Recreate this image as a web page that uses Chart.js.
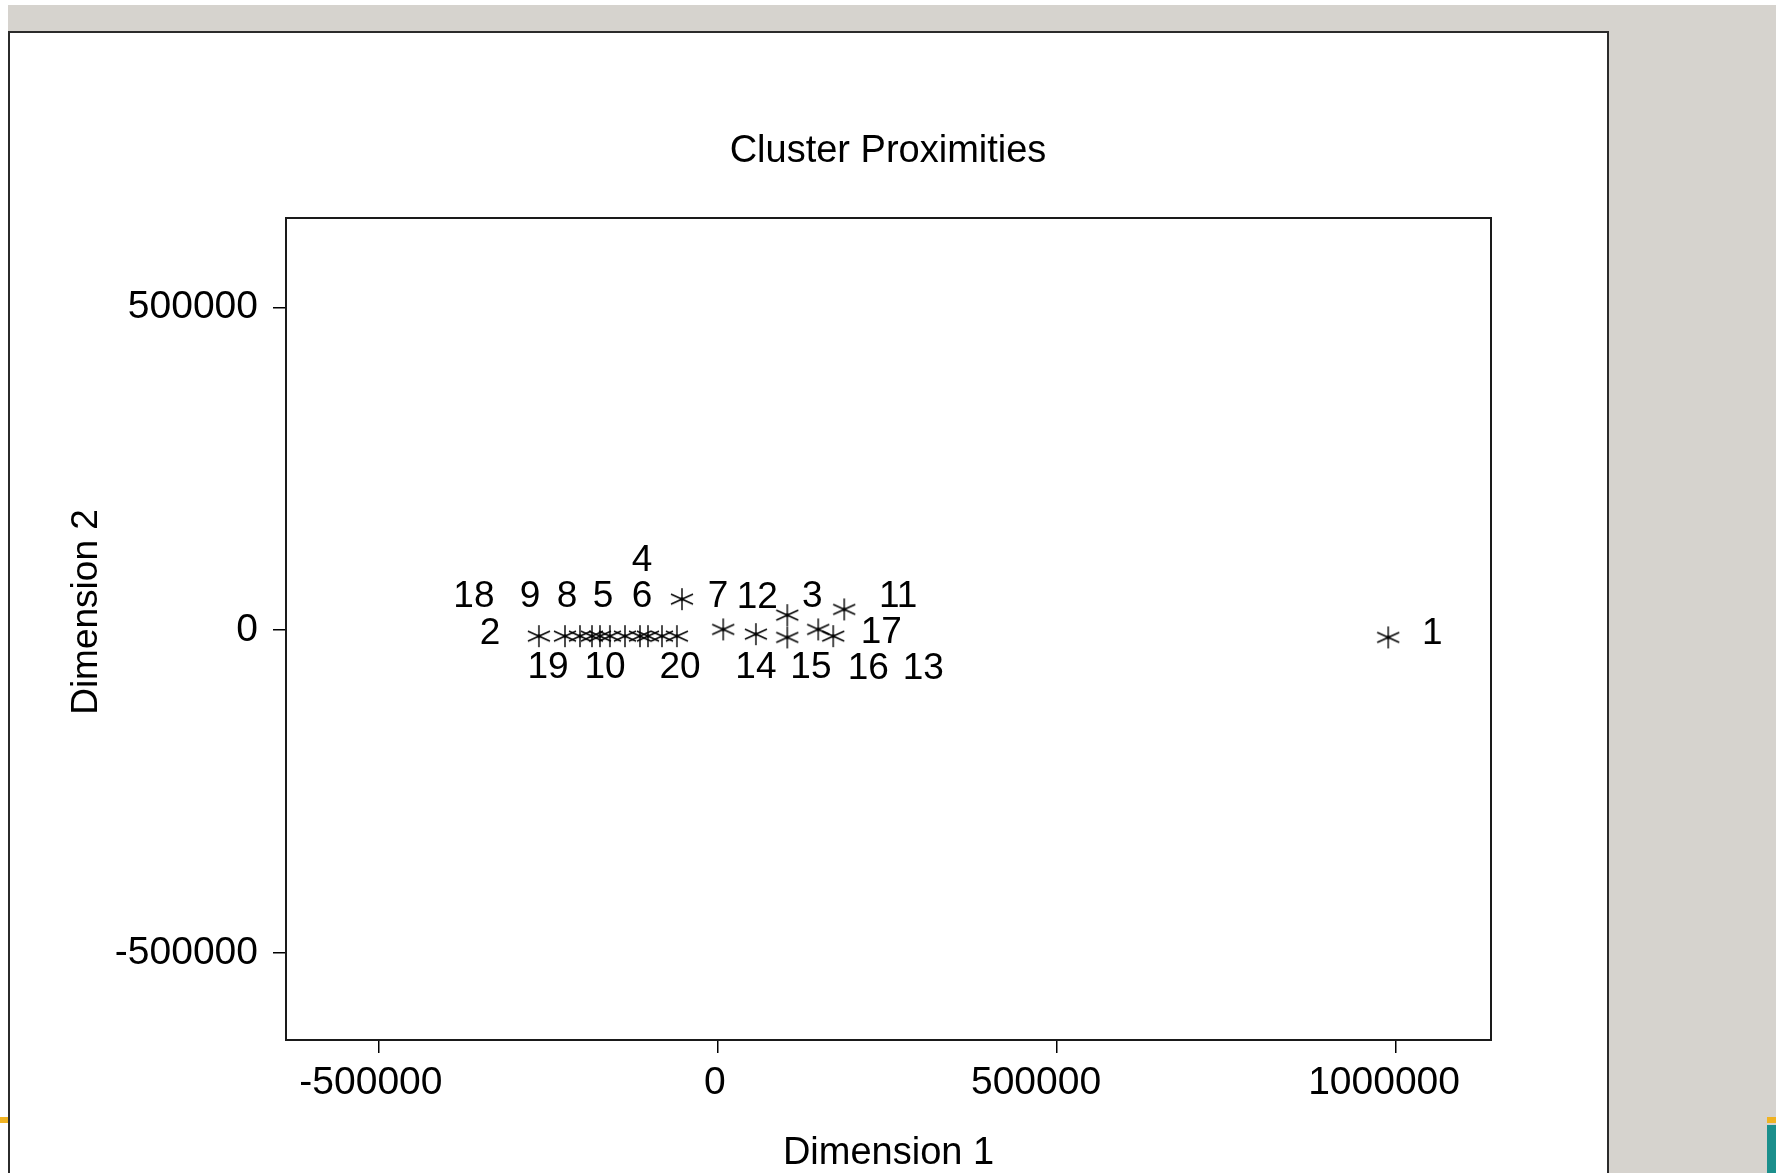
<!DOCTYPE html>
<html>
<head>
<meta charset="utf-8">
<title>Cluster Proximities</title>
<script src="https://cdn.jsdelivr.net/npm/chart.js@4.4.1/dist/chart.umd.min.js"></script>
<style>
  html, body { margin: 0; padding: 0; background: #fff; overflow: hidden; }
  body { width: 1776px; height: 1173px; position: relative; }
  .band { position: absolute; background: #d6d3ce; }
  .deco { position: absolute; }
  #frame {
    position: absolute; left: 8px; top: 31px; width: 1597px; height: 1200px;
    background: #fff; border: 2px solid #2b2b2b;
  }
  #plot { position: absolute; left: 0; top: 0; }
</style>
</head>
<body>
<div class="band" style="left:8px; top:5px; width:1768px; height:30px;"></div>
<div class="band" style="left:1606px; top:5px; width:170px; height:1168px;"></div>
<div class="deco" style="left:0; top:1117px; width:8px; height:6px; background:#f0b323;"></div>
<div class="deco" style="left:1767px; top:1117px; width:9px; height:6px; background:#f0b323;"></div>
<div class="deco" style="left:1767px; top:1125px; width:9px; height:48px; background:#1b8f8c;"></div>
<div id="frame"></div>
<canvas id="plot" width="1776" height="1173"></canvas>
<script>
// cluster numbers and their coordinates on the two dimensions
const clusters = ['1', '2', '3', '4', '5', '6', '7', '8', '9', '10',
                  '11', '12', '13', '14', '15', '16', '17', '18', '19', '20'];
const dim1 = [988400, -225600, 102200, -115000, -159300, -53100, -82600, -174000, -203500, -137100,
              170000, 7800, 186200, -60500, 56000, 102200, 147900, -264000, -185800, -103200];
const dim2 = [-11300, -9300, 23200, -9300, -9300, 48000, -9300, -9300, -9300, -9300,
              -9300, 1100, 32100, -9300, -6200, -11300, 1100, -9300, -9300, -9300];

const xTicks = [-500000, 0, 500000, 1000000];
const yTicks = [-500000, 0, 500000];

// where each number sits relative to its star (px)
const labelNudge = [
  [44, -4], [-75, -2], [25, -18], [2, -75], [-7, -39], [-40, -2], [56, -39], [-33, -39], [-50, -39], [-20, 32],
  [65, -39], [34, -32], [79, 59], [79, 32], [55, 34], [81, 31], [63, 3], [-65, -39], [-44, 32], [32, 32]
];
// the horizontal tick numbers are not quite centred under their marks
const xTickNudge = [-8, -3, -21, -12];

const FONT = '"Liberation Sans", Arial, sans-serif';

// six-armed asterisk used as plot symbol
function makeStar() {
  const c = document.createElement('canvas');
  c.width = 24; c.height = 24;
  const g = c.getContext('2d');
  g.translate(12, 12);
  g.strokeStyle = '#000';
  g.lineWidth = 1.4;
  g.beginPath();
  g.moveTo(0, -11); g.lineTo(0, 11);
  g.moveTo(-11, -5); g.lineTo(11, 5);
  g.moveTo(-11, 5); g.lineTo(11, -5);
  g.stroke();
  g.fillStyle = '#000';
  g.fillRect(-1.5, -1.5, 3, 3);
  return c;
}

const plotFrame = {
  id: 'plotFrame',
  afterDraw(chart) {
    const { ctx, chartArea: a } = chart;
    ctx.save();
    ctx.strokeStyle = '#1a1a1a';
    ctx.lineWidth = 2;
    ctx.strokeRect(a.left, a.top, a.right - a.left, a.bottom - a.top);
    ctx.restore();
  }
};

const pointLabels = {
  id: 'pointLabels',
  afterDatasetsDraw(chart) {
    const { ctx } = chart;
    const meta = chart.getDatasetMeta(0);
    ctx.save();
    ctx.font = '37px ' + FONT;
    ctx.fillStyle = '#000';
    ctx.textAlign = 'center';
    ctx.textBaseline = 'middle';
    meta.data.forEach((pt, i) => {
      ctx.fillText(clusters[i], pt.x + labelNudge[i][0], pt.y + labelNudge[i][1]);
    });
    ctx.restore();
  }
};

// numbers under the horizontal axis
const xTickLabels = {
  id: 'xTickLabels',
  afterDraw(chart) {
    const { ctx, chartArea: a } = chart;
    const sx = chart.scales.x;
    ctx.save();
    ctx.font = '39px ' + FONT;
    ctx.fillStyle = '#000';
    ctx.textAlign = 'center';
    ctx.textBaseline = 'middle';
    xTicks.forEach((v, i) => {
      ctx.fillText(String(v), sx.getPixelForValue(v) + xTickNudge[i], a.bottom + 43);
    });
    ctx.restore();
  }
};

// vertical axis title, sits a little above the middle of the plot
const yTitle = {
  id: 'yTitle',
  afterDraw(chart) {
    const { ctx, chartArea: a } = chart;
    ctx.save();
    ctx.translate(87, (a.top + a.bottom) / 2 - 17);
    ctx.rotate(-Math.PI / 2);
    ctx.font = '37px ' + FONT;
    ctx.fillStyle = '#000';
    ctx.textAlign = 'center';
    ctx.textBaseline = 'middle';
    ctx.fillText('Dimension 2', 0, 0);
    ctx.restore();
  }
};

const axisLine = { display: true, color: '#1a1a1a', width: 2 };
const tickMarks = { drawOnChartArea: false, drawTicks: true, tickLength: 13, color: '#000', lineWidth: 1.5 };

new Chart(document.getElementById('plot'), {
  type: 'scatter',
  data: {
    datasets: [{
      data: dim1.map((x, i) => ({ x: x, y: dim2[i] })),
      pointStyle: makeStar(),
      pointRadius: 11,
      pointHoverRadius: 11
    }]
  },
  options: {
    responsive: false,
    animation: false,
    events: [],
    layout: { padding: 0 },
    plugins: {
      legend: { display: false },
      tooltip: { enabled: false },
      title: {
        display: true,
        text: 'Cluster Proximities',
        color: '#000',
        font: { family: FONT, size: 38, weight: 'normal' },
        padding: { top: 128.6, bottom: 43.8 }
      }
    },
    scales: {
      x: {
        type: 'linear',
        min: -637000,
        max: 1140000,
        afterBuildTicks: s => { s.ticks = xTicks.map(v => ({ value: v })); },
        afterFit: s => { s.height = 133; },
        border: axisLine,
        grid: tickMarks,
        ticks: { display: false },
        title: {
          display: true,
          text: 'Dimension 1',
          color: '#000',
          font: { family: FONT, size: 38 },
          padding: { top: 0, bottom: -3.2 }
        }
      },
      y: {
        type: 'linear',
        min: -635000,
        max: 638500,
        afterBuildTicks: s => { s.ticks = yTicks.map(v => ({ value: v })); },
        afterFit: s => { s.width = 286; },
        border: axisLine,
        grid: tickMarks,
        ticks: {
          color: '#000',
          padding: 15,
          font: { family: FONT, size: 39 },
          callback: v => String(v)
        }
      },
      // empty right-hand margin so the plot and title sit where they should
      yMargin: {
        type: 'linear',
        position: 'right',
        min: 0,
        max: 1,
        afterFit: s => { s.width = 285; },
        ticks: { display: false },
        grid: { display: false },
        border: { display: false }
      }
    }
  },
  plugins: [plotFrame, pointLabels, xTickLabels, yTitle]
});
</script>
</body>
</html>
